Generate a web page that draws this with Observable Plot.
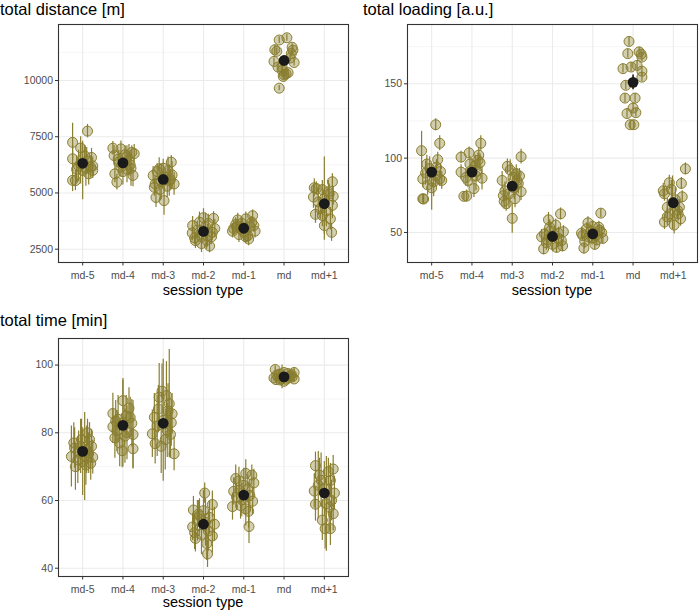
<!DOCTYPE html>
<html><head><meta charset="utf-8">
<script src="https://cdn.jsdelivr.net/npm/d3@7"></script>
<script src="https://cdn.jsdelivr.net/npm/@observablehq/plot@0.6"></script>
<style>
body{margin:0;background:#fff;font-family:"Liberation Sans",Arial,sans-serif;}
#root{position:relative;width:700px;height:612px;overflow:hidden;background:#fff;}
.title{position:absolute;font-size:16.5px;line-height:18px;color:#000;white-space:nowrap;}
.xlab{position:absolute;font-size:14.5px;line-height:16px;color:#000;width:290px;text-align:center;white-space:nowrap;}
.panel{position:absolute;}
</style></head><body><div id="root"></div>
<script>
// ---------- data ----------
const sessions = ["md-5","md-4","md-3","md-2","md-1","md","md+1"];
const panelTitles = ["total distance [m]","total loading [a.u.]","total time [min]"];
const xTitle = "session type";

// each point: [jitter (category units), value, error half-width]
const distancePoints = [
  [[-0.25,7250,850],[0.12,7750,300],[-0.05,7000,500],[-0.25,6520,600],[0.22,6580,400],[-0.1,6200,700],[0.2,6150,500],[-0.25,5560,500],[-0.18,5550,450],[0.0,6000,1300],[0.25,6200,400],[0.1,6420,600],[0.15,5850,500],[-0.05,6300,900],[0.05,6650,450],[0.25,6000,350],[-0.15,6050,600],[0.08,6100,800]],
  [[-0.25,6990,300],[-0.05,6960,350],[0.22,6800,300],[0.28,6750,400],[-0.22,6660,450],[-0.2,5850,400],[-0.15,5480,350],[0.25,5780,500],[0.1,6050,600],[-0.1,6380,500],[0.05,6700,400],[0.15,6450,700],[-0.05,6150,450],[0.18,6250,500],[0.0,5950,600],[-0.12,6500,400],[0.1,6600,500],[0.2,6100,800]],
  [[0.2,6370,300],[-0.25,5780,400],[-0.18,4800,450],[0.02,4660,650],[0.27,5400,500],[-0.22,5250,400],[-0.1,6070,500],[0.12,6000,600],[0.05,5700,400],[-0.05,5500,800],[0.18,5600,450],[-0.15,5950,350],[0.1,5300,500],[0.22,5800,600],[-0.2,5400,350],[0.0,6100,400],[-0.08,5150,500],[0.15,5550,700]],
  [[-0.27,3550,400],[0.25,3870,300],[-0.05,2750,400],[0.15,2640,300],[-0.2,2880,350],[0.28,3420,400],[-0.28,3220,350],[-0.1,3700,450],[0.1,3100,500],[0.05,3500,600],[-0.15,3350,400],[0.2,3050,350],[0.0,3900,400],[-0.05,3050,500],[0.12,3650,400],[-0.22,3000,300],[0.22,3250,350],[0.08,2900,400]],
  [[0.22,3990,250],[-0.25,3420,300],[-0.15,3800,300],[0.12,2950,300],[0.28,3300,300],[-0.12,3150,350],[0.05,3850,300],[-0.2,3600,300],[0.15,3500,350],[0.0,3250,400],[-0.05,3650,300],[0.2,3700,250],[-0.28,3300,300],[0.1,3100,300],[-0.08,3400,350],[0.25,3550,300],[0.05,3050,300],[-0.18,3500,250]],
  [[-0.12,9660,120],[0.07,11900,150],[-0.12,11800,150],[0.2,11480,150],[-0.23,11370,200],[-0.18,11300,150],[0.25,10800,150],[-0.25,10850,150],[-0.05,10450,200],[0.05,10300,150],[-0.02,10180,150],[0.18,11200,150],[-0.05,10600,200],[0.15,11000,150],[0.0,10250,150],[0.1,10350,150],[-0.15,10600,150],[0.22,11350,200]],
  [[-0.25,5230,400],[0.2,5500,350],[0.22,4850,400],[-0.27,4820,500],[-0.05,5150,400],[-0.22,4050,400],[0.0,3550,400],[0.15,3850,500],[0.18,3250,400],[0.2,4450,600],[-0.1,4300,500],[0.0,4750,1850],[0.1,5050,500],[-0.15,4600,600],[0.05,4200,700],[-0.2,5200,300],[0.12,4950,450],[-0.05,4000,500]]
];
const distanceMeans = [6320,6340,5600,3290,3430,10890,4520];
const distanceMeanErr = [120,130,130,90,70,150,160];
const distanceTicks = [2500,5000,7500,10000];

const loadingPoints = [
  [[-0.25,105,13],[0.1,122.5,4],[0.2,110,5],[0.15,99,5],[-0.12,96,6],[0.22,91,5],[-0.22,86,6],[0.2,86,5],[-0.2,72.5,3],[0.0,80,15],[0.1,88,7],[-0.05,93,8],[0.05,84,10],[-0.15,90,8],[0.25,85,6],[-0.1,82,7],[0.12,94,5],[-0.22,72.7,3]],
  [[-0.27,100.7,4],[-0.07,103.5,4],[0.17,102,5],[0.22,110,5],[0.15,98.5,5],[-0.27,90.6,5],[0.25,86.5,8],[0.05,79.5,6],[-0.2,74.3,3],[-0.13,74.5,4],[0.12,91,6],[-0.05,96,5],[0.0,92,8],[-0.15,87,6],[0.08,95,7],[0.2,97,6],[-0.1,85,5],[0.1,88,10]],
  [[0.22,101,5],[-0.12,94.5,5],[-0.25,85,6],[0.22,77.5,6],[0.0,59.5,10],[-0.22,74.8,5],[-0.15,69.3,5],[0.07,72.7,6],[0.1,89.5,6],[0.12,85,8],[-0.05,92,7],[0.05,80,8],[-0.18,78,6],[0.18,88,5],[-0.08,76,10],[0.15,83,7],[-0.2,71,5],[0.02,87,6]],
  [[0.2,62.5,4],[-0.1,58.5,5],[-0.22,39,4],[0.1,40,4],[0.27,50.5,4],[-0.27,47,5],[0.22,44.5,4],[-0.07,53.5,5],[-0.15,43,5],[0.05,48,5],[-0.2,49,4],[0.15,46,6],[0.0,42,5],[-0.05,51,6],[0.25,41,4],[0.08,55,4],[-0.12,45,5],[0.15,49.5,4]],
  [[0.2,63,3],[-0.22,39.5,4],[-0.12,56.5,4],[0.25,46,4],[-0.28,49.5,4],[0.17,51.5,4],[0.08,48,5],[-0.05,51,4],[-0.2,44,5],[0.0,54,4],[0.1,45,4],[-0.1,47,5],[0.22,50,4],[-0.15,52.5,4],[0.05,42,4],[-0.02,46.5,5],[0.15,53.5,4],[-0.25,48,4]],
  [[-0.1,178.5,3],[-0.13,170.3,3],[0.15,171.5,3],[0.2,170,3],[0.22,168,3],[-0.25,160.2,3],[-0.05,161.3,3],[0.1,162.4,3],[0.22,158.5,3],[0.22,154.5,3],[-0.18,149,3],[-0.2,140.4,3],[0.05,140.4,3],[0.0,133.7,3],[-0.15,130,3],[0.07,130.6,3],[-0.07,122.5,3],[0.02,122.5,3]],
  [[0.3,92.8,4],[0.2,83,4],[-0.25,78,5],[-0.1,83.5,5],[0.22,74,4],[-0.22,76,5],[-0.15,67,6],[0.15,67,5],[0.18,59.2,5],[-0.22,57,5],[0.02,55,6],[-0.08,62.5,6],[0.12,62.5,5],[-0.02,70,18],[0.05,72,8],[-0.15,60.5,6],[0.1,65,6],[-0.05,79,6]]
];
const loadingMeans = [90.6,90.6,81.2,47.3,49,151,70];
const loadingMeanErr = [2.8,2.3,2.3,1.4,1.4,5,2.4];
const loadingTicks = [50,100,150];

const timePoints = [
  [[-0.22,77,6],[0.12,80,4],[0.17,78,5],[-0.28,73,9],[-0.18,70,7],[0.25,72.8,5],[0.2,71,5],[-0.05,76,8],[0.05,73,13],[-0.1,74.5,6],[0.1,75,7],[-0.2,75.5,6],[0.0,71.5,10],[0.15,74,6],[-0.12,72,7],[0.22,76,5],[-0.03,78,6],[0.08,70.5,6]],
  [[0.0,89.5,6],[-0.25,85.7,6],[0.25,75.3,6],[-0.02,74.7,5],[-0.2,78.5,6],[-0.25,81.8,5],[0.22,82.8,7],[0.15,87.3,6],[0.1,80,8],[0.0,83,13],[0.25,79.5,10],[-0.12,84,7],[0.08,85,6],[-0.15,80.5,6],[0.18,84.5,6],[-0.08,77,7],[0.05,79,8],[-0.18,83.5,6]],
  [[-0.03,92.3,8],[-0.22,84.6,7],[0.22,85.6,6],[-0.27,79.7,7],[0.27,73.8,5],[0.15,88.6,16],[-0.2,76.8,6],[0.1,80.7,8],[0.0,83.7,18],[-0.1,90.5,10],[0.05,78,9],[0.2,83,7],[-0.15,82,9],[0.12,86.5,8],[-0.05,76,8],[0.08,91,10],[-0.12,87,7],[0.18,79.5,7]],
  [[0.03,62.2,3],[0.22,58.8,4],[-0.25,57.2,4],[-0.27,52.2,4],[0.1,44.2,4],[-0.2,48.8,4],[0.27,53,5],[0.22,49.5,5],[0.08,47.3,5],[-0.1,55.5,5],[0.0,57,6],[-0.15,54,6],[0.12,51,6],[-0.05,50,6],[0.15,55,5],[-0.22,50.5,5],[0.05,53.5,7],[-0.12,56,4]],
  [[0.05,68,4],[0.25,65.2,4],[-0.25,62.7,4],[-0.28,58.2,4],[0.22,59.8,4],[0.12,56.8,5],[0.13,52.3,5],[-0.12,65.8,4],[0.2,67.5,3],[-0.05,60.2,5],[0.1,63.5,4],[-0.18,61,4],[0.0,64.5,5],[-0.08,58.5,4],[0.15,61.5,4],[-0.2,66.5,4],[0.05,57.5,5],[-0.1,63,4]],
  [[-0.22,98.7,1],[0.25,97.8,1.5],[-0.25,96.2,1],[0.25,95.9,1],[0.0,95.2,1],[-0.12,97.3,1.5],[0.15,96.8,1],[-0.05,96.5,3.5],[0.1,97.5,1],[-0.18,97,1],[0.2,96.5,1],[0.05,95.8,1],[-0.1,95.6,1],[0.12,96.2,1],[-0.2,95.7,1],[0.18,97.2,1],[0.0,97.8,1],[-0.08,96,1]],
  [[-0.22,70.3,4],[0.22,69.3,4],[-0.25,62.8,5],[0.25,62.2,5],[-0.22,58.9,5],[0.15,65.9,5],[-0.05,54.2,6],[0.22,56.1,5],[0.02,51.7,6],[0.15,51.7,5],[-0.12,67.5,5],[0.1,68.5,4],[0.05,59,14],[-0.15,64.5,10],[0.18,60,6],[-0.08,66,8],[0.0,63.5,8],[0.12,58,7]]
];
const timeMeans = [74.5,82.2,82.8,53,61.6,96.5,62.2];
const timeMeanErr = [0.7,1.1,1.3,1.2,0.9,0.25,1.4];
const timeTicks = [40,60,80,100];

// ---------- drawing ----------
const olive = "#8a7e30";
const root = document.getElementById("root");

function makePanel({points, means, meanErr, yDomain, ticks, minors}) {
  const rows = [];
  points.forEach((grp, i) => grp.forEach(([j, v, e]) => rows.push({x: i + 1 + j, y: v, lo: v - e, hi: v + e})));
  const mrows = means.map((m, i) => ({x: i + 1, y: m, lo: m - meanErr[i], hi: m + meanErr[i]}));
  const cats = sessions.map((s, i) => i + 1);
  return Plot.plot({
    width: 350, height: 280,
    marginLeft: 58, marginRight: 2, marginTop: 4, marginBottom: 38,
    style: {fontFamily: "Liberation Sans, Arial, sans-serif", fontSize: "10.5px", background: "transparent", overflow: "visible"},
    x: {type: "linear", domain: [0.4, 7.6], axis: null},
    y: {type: "linear", domain: yDomain, axis: null},
    marks: [
      Plot.ruleY(minors, {stroke: "#f0f0f0", strokeWidth: 0.6}),
      Plot.ruleY(ticks, {stroke: "#ebebeb", strokeWidth: 1.1}),
      Plot.ruleX(cats, {stroke: "#ebebeb", strokeWidth: 1.1}),
      Plot.ruleX(rows, {x: "x", y1: "lo", y2: "hi", stroke: olive, strokeWidth: 1.2}),
      Plot.dot(rows, {x: "x", y: "y", r: 5, fill: olive, fillOpacity: 0.38, stroke: olive, strokeWidth: 1}),
      Plot.ruleX(mrows, {x: "x", y1: "lo", y2: "hi", stroke: "#1a1a1a", strokeWidth: 1.6}),
      Plot.dot(mrows, {x: "x", y: "y", r: 5.4, fill: "#1a1a1a"}),
      Plot.axisX(cats, {tickFormat: i => sessions[i - 1], tickSize: 3.5, tickPadding: 6, label: null, stroke: "#333", fill: "#4d4d4d"}),
      Plot.axisY(ticks, {tickFormat: d => String(d), tickSize: 3, tickPadding: 2.5, label: null, stroke: "#333", fill: "#4d4d4d"}),
      Plot.frame({stroke: "#333", strokeWidth: 1.1})
    ]
  });
}

function place(el, left, top) {
  el.classList.add("panel");
  el.style.left = left + "px";
  el.style.top = top + "px";
  root.appendChild(el);
}
function addText(cls, text, left, top) {
  const d = document.createElement("div");
  d.className = cls;
  d.textContent = text;
  d.style.left = left + "px";
  d.style.top = top + "px";
  root.appendChild(d);
}

place(makePanel({points: distancePoints, means: distanceMeans, meanErr: distanceMeanErr,
  yDomain: [1908, 12491], ticks: distanceTicks, minors: [3750, 6250, 8750, 11250]}), 0, 20);
place(makePanel({points: loadingPoints, means: loadingMeans, meanErr: loadingMeanErr,
  yDomain: [29.8, 189.9], ticks: loadingTicks, minors: [75, 125, 175]}), 349, 20);
place(makePanel({points: timePoints, means: timeMeans, meanErr: timeMeanErr,
  yDomain: [37.55, 107.85], ticks: timeTicks, minors: [50, 70, 90]}), 0, 334);

addText("title", panelTitles[0], 0, 0);
addText("title", panelTitles[1], 363, 0);
addText("title", panelTitles[2], 0, 311);
addText("xlab", xTitle, 58, 282);
addText("xlab", xTitle, 407, 282);
addText("xlab", xTitle, 58, 594);
</script></body></html>
